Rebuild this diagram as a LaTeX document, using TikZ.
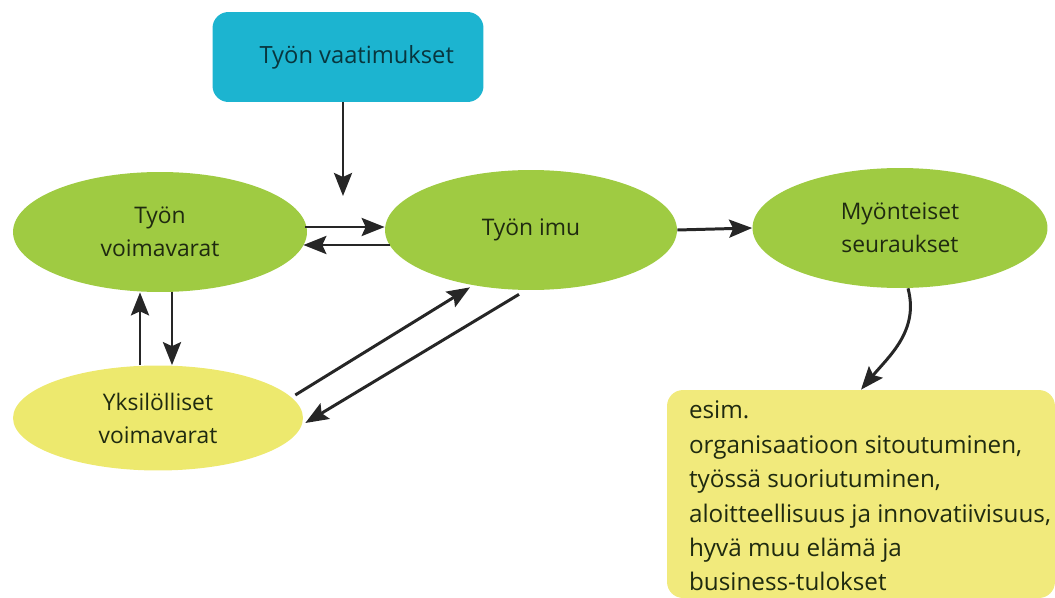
\documentclass[tikz,border=0pt]{standalone}
\usepackage{fontspec}
\setmainfont{Open Sans}
\usetikzlibrary{shapes.geometric,arrows.meta}
\definecolor{vaatcol}{HTML}{1CB4D0}
\definecolor{imucol}{HTML}{9FCB42}
\definecolor{yksicol}{HTML}{EDE96E}
\definecolor{esimcol}{HTML}{F1EA7C}
\definecolor{tekstcol}{HTML}{1F2A10}
\begin{document}
\begin{tikzpicture}[x=0.02cm,y=-0.02cm,
    soikio/.style={ellipse,draw=none,fill=imucol,align=center,text=tekstcol,
      font=\fontsize{13}{18.8}\selectfont,inner sep=0pt},
    laatikko/.style={rounded corners=0.32cm,draw=none},
    nuoli/.style={-{Stealth[length=0.46cm,width=0.36cm,inset=0.08cm]},line width=1.7pt,draw=black!85}]
    \useasboundingbox (0,0) rectangle (1055,598);
    \node[laatikko,fill=vaatcol,minimum width=5.42cm,minimum height=1.8cm,
      text=vaatcol!30!black,font=\fontsize{13.5}{19}\selectfont] (vaat) at (348,57) {\hspace*{0.35cm}Työn vaatimukset};
    \node[soikio,minimum width=5.88cm,minimum height=2.4cm] (voima) at (160,232) {Työn\\voimavarat};
    \node[soikio,minimum width=5.84cm,minimum height=2.4cm] (imu) at (531,230) {Työn imu};
    \node[soikio,minimum width=5.9cm,minimum height=2.4cm] (seur) at (900,228) {Myönteiset\\seuraukset};
    \node[soikio,fill=yksicol,minimum width=5.8cm,minimum height=2.1cm] (yks) at (158,418) {Yksilölliset\\voimavarat};
    \node[laatikko,fill=esimcol,minimum width=7.76cm,minimum height=4.16cm] (esim) at (861,494) {};
    \node[align=left,inner sep=0pt,text=tekstcol,font=\fontsize{13.8}{19.6}\selectfont] (esimteksti) at (870,496)
      {esim.\\organisaatioon sitoutuminen,\\työssä suoriutuminen,\\aloitteellisuus ja innovatiivisuus,\\hyvä muu elämä ja\\business-tulokset};
    \coordinate (vpaa) at (343,196);
    \draw[nuoli] (vaat.south -| vpaa) -- (vpaa);
    \draw[nuoli] ([shift={(-2,-5)}]voima.east) -- ([shift={(0,-3)}]imu.west);
    \draw[nuoli] ([shift={(5,15)}]imu.west) -- ([shift={(-4,13)}]voima.east);
    \draw[nuoli] (imu.east) -- (seur.west);
    \draw[nuoli] ([shift={(-18,0)}]yks.north) -- ([shift={(-20,0)}]voima.south);
    \draw[nuoli] ([shift={(12,0)}]voima.south) -- ([shift={(14,0)}]yks.north);
    \draw[nuoli] ([shift={(-8,-23)}]yks.east) -- ([shift={(-61,-3)}]imu.south);
    \draw[nuoli] ([shift={(-12,4)}]imu.south) -- ([shift={(2,5)}]yks.east);
    \draw[nuoli] ([shift={(8,0)}]seur.south) to[out=-75,in=50] (esim.north);
\end{tikzpicture}
\end{document}
